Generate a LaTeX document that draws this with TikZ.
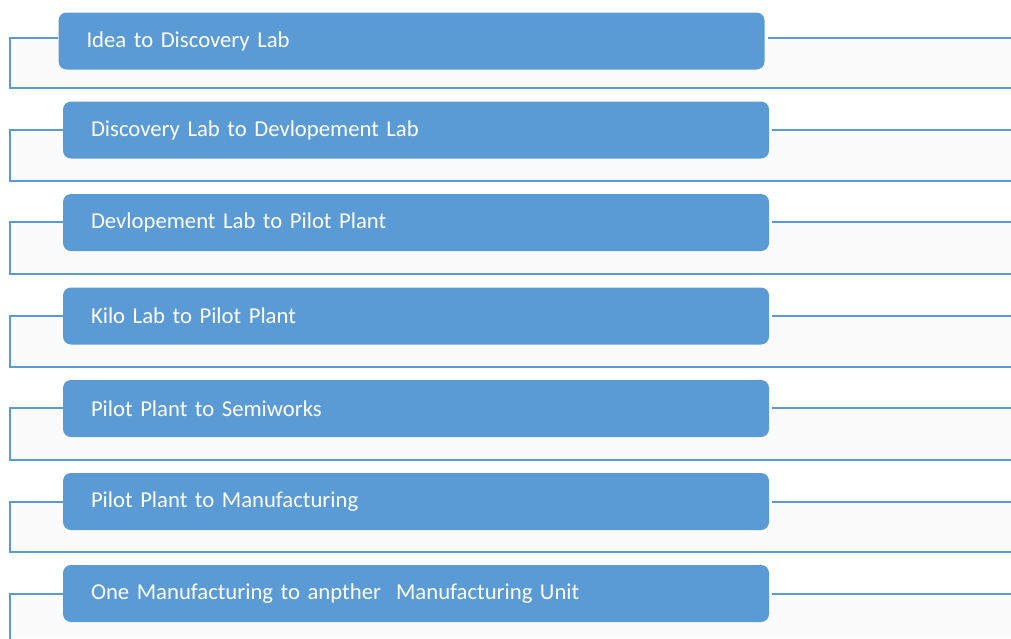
\documentclass[tikz,border=0pt]{standalone}
\usepackage{fontspec}
\setmainfont{Carlito}
\definecolor{stageblue}{HTML}{5B9BD5}
\definecolor{bandgray}{HTML}{FBFBFB}
\begin{document}
\begin{tikzpicture}[x=1pt,y=-1pt]
  \tikzset{ stage/.style={rectangle,rounded corners=8pt,fill=stageblue,text=white,
      font=\fontsize{22.7}{26}\selectfont,minimum height=57pt,inner xsep=28pt,
      text width=650pt,align=left},
    link/.style={stageblue,line width=2.6pt},
    band/.style={fill=bandgray},
  }
  \useasboundingbox (0,0) rectangle (1011,638);

  % light bands under each stage
  \fill[band] (10,38) rectangle (1011,88);
  \fill[band] (10,130) rectangle (1011,181);
  \fill[band] (10,222) rectangle (1011,274);
  \fill[band] (10,316) rectangle (1011,367);
  \fill[band] (10,408) rectangle (1011,460);
  \fill[band] (10,502) rectangle (1011,552);
  \fill[band] (10,594) rectangle (1011,638);

  % corners of the brackets
  \coordinate (a1) at (10,38);  \coordinate (b1) at (10,88);  \coordinate (r1) at (1011,38);
  \coordinate (a2) at (10,130); \coordinate (b2) at (10,181); \coordinate (r2) at (1011,130);
  \coordinate (a3) at (10,222); \coordinate (b3) at (10,274); \coordinate (r3) at (1011,222);
  \coordinate (a4) at (10,316); \coordinate (b4) at (10,367); \coordinate (r4) at (1011,316);
  \coordinate (a5) at (10,408); \coordinate (b5) at (10,460); \coordinate (r5) at (1011,408);
  \coordinate (a6) at (10,502); \coordinate (b6) at (10,552); \coordinate (r6) at (1011,502);
  \coordinate (a7) at (10,594); \coordinate (b7) at (10,650); \coordinate (r7) at (1011,594);
  \coordinate (e) at (1011,0);

  % the stages
  \node[stage] (s1) at (411.5,41) {Idea to Discovery Lab};
  \node[stage] (s2) at (416,130) {Discovery Lab to Devlopement Lab};
  \node[stage] (s3) at (416,222.5) {Devlopement Lab to Pilot Plant};
  \node[stage] (s4) at (416,316) {Kilo Lab to Pilot Plant};
  \node[stage] (s5) at (416,408.5) {Pilot Plant to Semiworks};
  \node[stage] (s6) at (416,501.5) {Pilot Plant to Manufacturing};
  \node[stage] (s7) at (416,593.5) {One Manufacturing to anpther\ \ Manufacturing Unit};

  % bracket on the left, line on the right
  \draw[link] (s1.west |- a1) -- (a1) -- (b1) -- (b1 -| e);
  \draw[link,shorten <=3pt] (s1.east |- r1) -- (r1);
  \draw[link] (s2.west |- a2) -- (a2) -- (b2) -- (b2 -| e);
  \draw[link,shorten <=3pt] (s2.east |- r2) -- (r2);
  \draw[link] (s3.west |- a3) -- (a3) -- (b3) -- (b3 -| e);
  \draw[link,shorten <=3pt] (s3.east |- r3) -- (r3);
  \draw[link] (s4.west |- a4) -- (a4) -- (b4) -- (b4 -| e);
  \draw[link,shorten <=3pt] (s4.east |- r4) -- (r4);
  \draw[link] (s5.west |- a5) -- (a5) -- (b5) -- (b5 -| e);
  \draw[link,shorten <=3pt] (s5.east |- r5) -- (r5);
  \draw[link] (s6.west |- a6) -- (a6) -- (b6) -- (b6 -| e);
  \draw[link,shorten <=3pt] (s6.east |- r6) -- (r6);
  \draw[link] (s7.west |- a7) -- (a7) -- (b7);
  \draw[link,shorten <=3pt] (s7.east |- r7) -- (r7);
\end{tikzpicture}
\end{document}
